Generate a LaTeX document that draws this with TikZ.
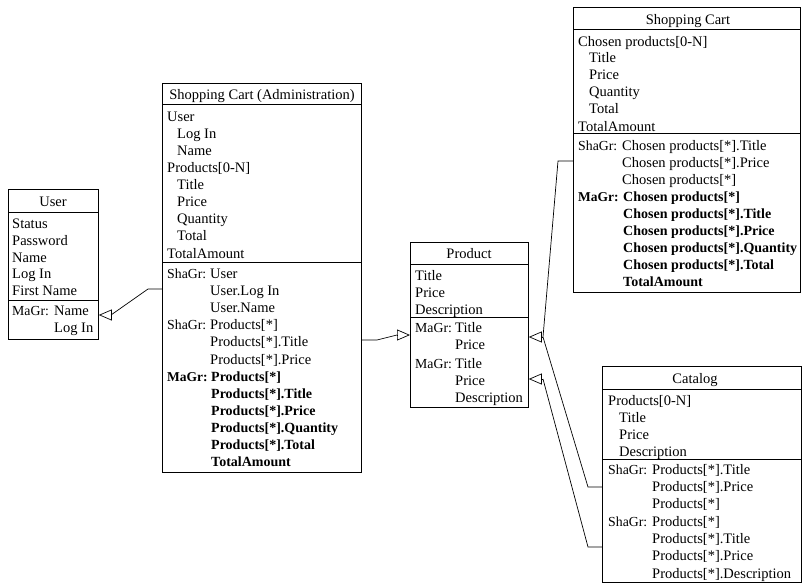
\documentclass[tikz,border=0pt]{standalone}
\usepackage{fontspec}
\setmainfont{Liberation Serif}
\usetikzlibrary{arrows.meta}
\begin{document}
\begin{tikzpicture}[x=1pt,y=-1pt,
  box/.style={draw=black, line width=0.8pt, rectangle, inner sep=0pt, anchor=north west},
  txt/.style={anchor=base west, inner sep=0pt, font=\fontsize{14.5}{17}\selectfont},
  btxt/.style={anchor=base west, inner sep=0pt, font=\fontsize{14}{17}\selectfont\bfseries},
  lbl/.style={anchor=base west, inner sep=0pt, font=\fontsize{13.8}{17}\selectfont},
  blbl/.style={anchor=base west, inner sep=0pt, font=\fontsize{13.5}{17}\selectfont\bfseries},
  ttl/.style={anchor=base, inner sep=0pt, font=\fontsize{14.5}{17}\selectfont},
  sep/.style={line width=0.8pt},
  wire/.style={line width=0.7pt},
  head/.style={line width=0.7pt, -{Triangle[open, length=13pt, width=11pt, line width=0.7pt]}}
]
\useasboundingbox (0,0) rectangle (804,584);

% ---------- class boxes ----------
\node[box, minimum width=90pt,  minimum height=150pt] (user)    at (8,189)   {};
\node[box, minimum width=199pt, minimum height=389pt] (admin)   at (162,83)  {};
\node[box, minimum width=118pt, minimum height=165pt] (product) at (410,242) {};
\node[box, minimum width=227pt, minimum height=285pt] (cart)    at (573,7)   {};
\node[box, minimum width=199pt, minimum height=216pt] (catalog) at (602,366) {};

% compartment separators
\foreach \bx/\ya/\yb in {user/212/300, admin/104/262, product/264/317, cart/29/133, catalog/389/459} {
  \draw[sep] (\bx.west |- 0,\ya) -- (\bx.east |- 0,\ya);
  \draw[sep] (\bx.west |- 0,\yb) -- (\bx.east |- 0,\yb);
}

% ---------- User ----------
\node[ttl] (user-t) at (53,206) {User};
\foreach \ry/\rt in {228/Status, 245/Password, 262/Name, 278/Log In, 295/First Name}
  \node[txt] at (12,\ry) {\rt};
\node[lbl] at (12,315) {MaGr:};
\node[txt] at (54,315) {Name};
\node[txt] at (54,332) {Log In};

% ---------- Shopping Cart (Administration) ----------
\node[ttl] (admin-t) at (262,99) {Shopping Cart (Administration)};
\foreach \ry/\rt in {121/User, 172/Products[0-N], 258/TotalAmount}
  \node[txt] at (167,\ry) {\rt};
\foreach \ry/\rt in {138/Log In, 155/Name, 189/Title, 206/Price, 223/Quantity, 240/Total}
  \node[txt] at (177,\ry) {\rt};
\node[lbl] at (167,278) {ShaGr:};
\node[lbl] at (167,329) {ShaGr:};
\foreach \ry/\rt in {278/User, 295/User.Log In, 312/User.Name, 329/Products[*],
                     346/Products[*].Title, 364/Products[*].Price}
  \node[txt] at (210,\ry) {\rt};
\node[blbl] at (167,381) {MaGr:};
\foreach \ry/\rt in {381/Products[*], 398/Products[*].Title, 415/Products[*].Price,
                     432/Products[*].Quantity, 449/Products[*].Total, 466/TotalAmount}
  \node[btxt] at (211,\ry) {\rt};

% ---------- Product ----------
\node[ttl] (product-t) at (469,258.5) {Product};
\foreach \ry/\rt in {280/Title, 297/Price, 314/Description}
  \node[txt] at (415,\ry) {\rt};
\node[lbl] at (415,332) {MaGr:};
\node[lbl] at (415,368) {MaGr:};
\foreach \ry/\rt in {332/Title, 349/Price, 368/Title, 385/Price, 402/Description}
  \node[txt] at (455,\ry) {\rt};

% ---------- Shopping Cart ----------
\node[ttl] (cart-t) at (688,24) {Shopping Cart};
\foreach \ry/\rt in {46/Chosen products[0-N], 131/TotalAmount}
  \node[txt] at (578,\ry) {\rt};
\foreach \ry/\rt in {62/Title, 79/Price, 96/Quantity, 113/Total}
  \node[txt] at (589,\ry) {\rt};
\node[lbl] at (578,150) {ShaGr:};
\foreach \ry/\rt in {150/Chosen products[*].Title, 167/Chosen products[*].Price, 184/Chosen products[*]}
  \node[txt] at (622,\ry) {\rt};
\node[blbl] at (578,201) {MaGr:};
\foreach \ry/\rt in {201/Chosen products[*], 218/Chosen products[*].Title, 235/Chosen products[*].Price,
                     252/Chosen products[*].Quantity, 269/Chosen products[*].Total, 286/TotalAmount}
  \node[btxt] at (623,\ry) {\rt};

% ---------- Catalog ----------
\node[ttl] (catalog-t) at (695,383) {Catalog};
\node[txt] at (608,405) {Products[0-N]};
\foreach \ry/\rt in {422/Title, 439/Price, 456/Description}
  \node[txt] at (619,\ry) {\rt};
\node[lbl] at (608,474) {ShaGr:};
\node[lbl] at (608,526) {ShaGr:};
\foreach \ry/\rt in {474/Products[*].Title, 491/Products[*].Price, 508.5/Products[*],
                     526/Products[*], 543/Products[*].Title, 560.5/Products[*].Price,
                     578/Products[*].Description}
  \node[txt] at (652,\ry) {\rt};

% ---------- connectors ----------
% Administration cart -> User
\coordinate (u-tip) at (user.east |- 0,315);
\coordinate (u-hub) at (111,315);
\coordinate (u-bend) at (148,289);
\draw[wire] (admin.west |- 0,289) -- (u-bend) -- (u-hub);
\draw[head] (u-hub) -- (u-tip);

% Administration cart -> Product
\coordinate (pl-tip) at (product.west |- 0,335);
\coordinate (pl-hub) at (397,335);
\coordinate (pl-bend) at (377,340);
\draw[wire] (admin.east |- 0,340) -- (pl-bend) -- (pl-hub);
\draw[head] (pl-hub) -- (pl-tip);

% Shopping Cart and Catalog -> Product (first group)
\coordinate (pr1-tip) at (product.east |- 0,337);
\coordinate (pr1-hub) at (543,337);
\coordinate (c-bend) at (558,161);
\coordinate (k1-bend) at (588,487);
\draw[wire] (cart.west |- 0,161) -- (c-bend) -- (pr1-hub) -- (k1-bend) -- (catalog.west |- 0,487);
\draw[head] (pr1-hub) -- (pr1-tip);

% Catalog -> Product (second group)
\coordinate (pr2-tip) at (product.east |- 0,379);
\coordinate (pr2-hub) at (543,379);
\coordinate (k2-bend) at (588,547);
\draw[wire] (pr2-hub) -- (k2-bend) -- (catalog.west |- 0,547);
\draw[head] (pr2-hub) -- (pr2-tip);
\end{tikzpicture}
\end{document}
